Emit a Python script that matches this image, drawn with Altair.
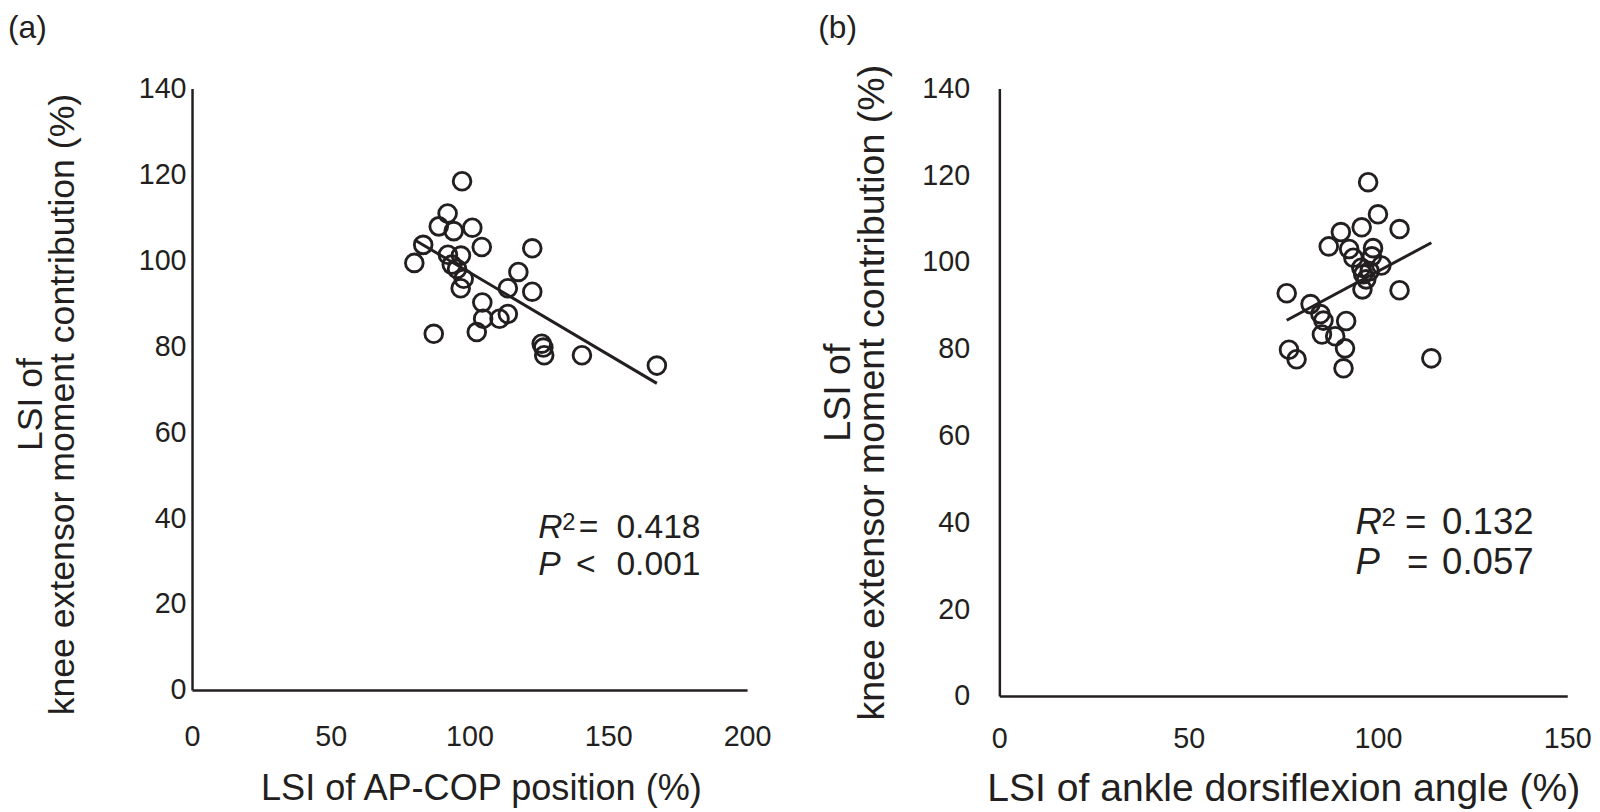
import altair as alt
import pandas as pd

# ---------------- data ----------------
# Panel (a): LSI of AP-COP position (%) vs LSI of knee extensor moment contribution (%)
a_x = [97.3, 92.1, 88.9, 94.3, 101.0, 83.3, 104.4, 122.6, 80.1, 92.2,
       96.9, 93.6, 95.5, 117.6, 97.9, 96.8, 113.8, 122.6, 104.6, 104.9,
       110.8, 113.8, 102.6, 87.1, 126.0, 126.6, 126.9, 140.5, 167.5]
a_y = [118.4, 110.9, 107.9, 106.8, 107.6, 103.6, 103.1, 102.8, 99.4, 101.3,
       101.1, 99.0, 98.0, 97.3, 95.7, 93.5, 93.5, 92.7, 90.2, 86.4,
       86.4, 87.5, 83.3, 82.9, 80.6, 79.7, 77.9, 77.9, 75.5]

# Panel (b): LSI of ankle dorsiflexion angle (%) vs same y
b_x = [97.4, 100.0, 95.7, 105.7, 90.2, 87.0, 92.4, 98.7, 93.5, 98.4,
       100.9, 95.6, 96.1, 97.8, 96.9, 95.9, 105.7, 75.9, 82.2, 84.8,
       85.6, 91.6, 85.2, 88.7, 91.3, 76.5, 78.5, 114.1, 90.9]
b_y = [118.4, 111.0, 108.0, 107.6, 106.9, 103.6, 103.0, 103.2, 101.0, 101.3,
       99.2, 98.7, 97.2, 97.9, 96.0, 93.7, 93.5, 92.8, 90.3, 88.0,
       86.5, 86.4, 83.3, 82.9, 80.1, 79.8, 77.6, 77.8, 75.5]

x_ticks_a = [0, 50, 100, 150, 200]
x_ticks_b = [0, 50, 100, 150]
y_ticks = [0, 20, 40, 60, 80, 100, 120, 140]

x_title_a = "LSI of AP-COP position (%)"
x_title_b = "LSI of ankle dorsiflexion angle (%)"
y_title = ["LSI of", "knee extensor moment contribution (%)"]

# R^2 line: symbol, superscript, relation, value ; P line: symbol, relation, value
stats_a = ["R", "2", "=", "0.418", "P", "<", "0.001"]
stats_b = ["R", "2", "=", "0.132", "P", "=", "0.057"]
letters = ["(a)", "(b)"]

FONT = "Liberation Sans"
INK = "#231f20"


def txt(s, x, y, size, italic=False, baseline="middle", align="left"):
    return alt.Chart(pd.DataFrame({"t": [s]})).mark_text(
        font=FONT, fontSize=size, fontStyle="italic" if italic else "normal",
        color=INK, align=align, baseline=baseline,
    ).encode(x=alt.value(x), y=alt.value(y), text="t:N")


def panel(xs, ys, xdomain, xticks, xtitle, w, h,
          xlabpad, xtitlepad, xtitlesize, xtitlex,
          ylabpad, ytitlepad, ytitlesize, ylineh, ytitley,
          stats, fs, sx, sy1, sy2, rel1, rel2, numx, letter, lx, ly):
    df = pd.DataFrame({"x": xs, "y": ys})
    base = alt.Chart(df)
    X = alt.X("x:Q", scale=alt.Scale(domain=xdomain, nice=False, zero=True),
              axis=alt.Axis(values=xticks, title=xtitle, labelFlush=False,
                            labelPadding=xlabpad, titlePadding=xtitlepad,
                            titleFontSize=xtitlesize, titleX=xtitlex))
    Y = alt.Y("y:Q", scale=alt.Scale(domain=[0, 140], nice=False),
              axis=alt.Axis(values=y_ticks, title=y_title, labelPadding=ylabpad,
                            titlePadding=ytitlepad, titleFontSize=ytitlesize,
                            titleLineHeight=ylineh, titleY=ytitley))
    pts = base.mark_point(shape="circle", filled=False, size=320, strokeWidth=2.9,
                          color=INK, opacity=1).encode(x=X, y=Y)
    line = base.transform_regression("x", "y").mark_line(
        color=INK, strokeWidth=3).encode(x="x:Q", y="y:Q")
    layers = [
        pts, line,
        txt(stats[0], sx, sy1, fs, italic=True),
        txt(stats[1], sx + 0.71 * fs, sy1 - 0.14 * fs, round(0.7 * fs)),
        txt(stats[2], sx + rel1, sy1, fs),
        txt(stats[3], numx, sy1, fs, align="right"),
        txt(stats[4], sx, sy2, fs, italic=True),
        txt(stats[5], sx + rel2, sy2, fs),
        txt(stats[6], numx, sy2, fs, align="right"),
        txt(letter, lx, ly, 32, baseline="top"),
    ]
    return alt.layer(*layers).properties(width=w, height=h)


pa = panel(a_x, a_y, [0, 200], x_ticks_a, x_title_a, 561, 608,
           33, 20, 36.5, 292,
           6, 57, 36, 33, 319,
           stats_a, 34, 350, 444, 482, 41, 38, 514, letters[0], -186, -76)
pb = panel(b_x, b_y, [0, 150], x_ticks_b, x_title_b, 574, 614,
           29, 17, 39.5, 287,
           30, 31, 38, 34, 307,
           stats_b, 37, 360, 439, 480, 50, 52, 540, letters[1], -183, -76)

chart = alt.hconcat(pa, pb, spacing=47).properties(padding=0).configure_view(
    stroke=None
).configure_axis(
    grid=False, ticks=False, domainColor=INK, domainWidth=2.5,
    labelFont=FONT, labelFontSize=29, labelColor=INK,
    titleFont=FONT, titleFontWeight="normal", titleColor=INK,
)

chart.save("out.html", embed_options={"renderer": "svg", "actions": False})
